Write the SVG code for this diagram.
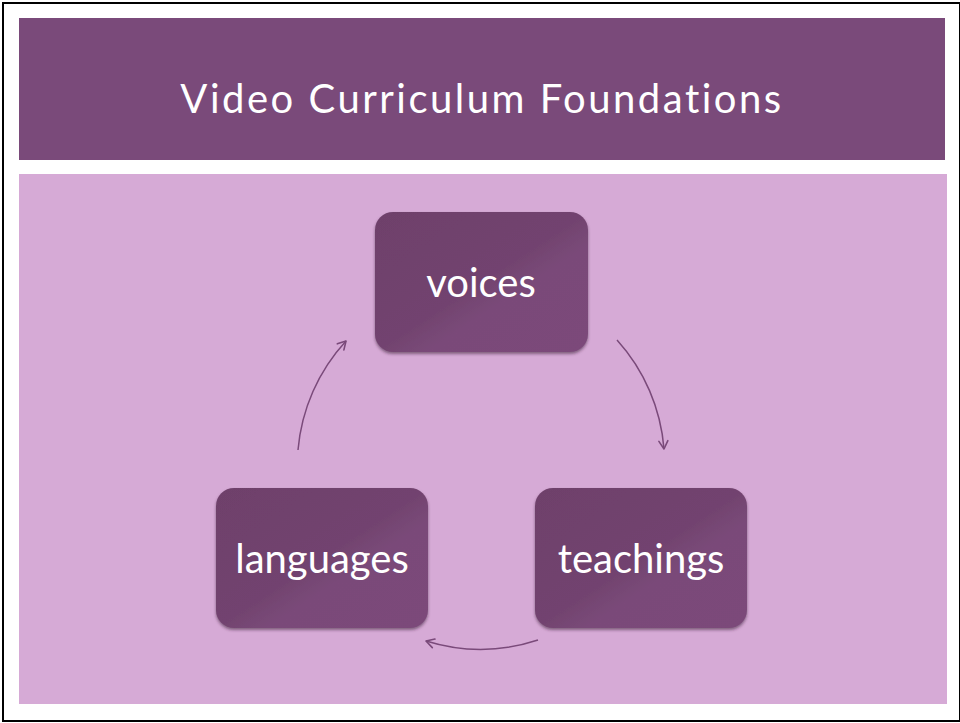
<svg xmlns="http://www.w3.org/2000/svg" width="960" height="723" viewBox="0 0 960 723">
  <style>
    .title { font-family: "Lato", "Open Sans", "Liberation Sans", sans-serif; font-size: 40px; fill: #ffffff; letter-spacing: 2.5px; }
    .label { font-family: "Lato", "Open Sans", "Liberation Sans", sans-serif; font-size: 40px; fill: #ffffff; }
    .box { fill: url(#nodeGrad); filter: url(#shadow); }
    .conn { fill: none; stroke: #7a4a7a; stroke-width: 1.5; marker-end: url(#arrow); }
  </style>
  <defs>
    <linearGradient id="nodeGrad" x1="0" y1="0" x2="1" y2="1">
      <stop offset="0" stop-color="#6e416b"/>
      <stop offset="0.5" stop-color="#72436f"/>
      <stop offset="0.62" stop-color="#7a4a79"/>
      <stop offset="1" stop-color="#7b4a7a"/>
    </linearGradient>
    <filter id="shadow" x="-10%" y="-10%" width="120%" height="125%">
      <feDropShadow dx="0" dy="2" stdDeviation="1.5" flood-color="#3a2038" flood-opacity="0.55"/>
    </filter>
    <marker id="arrow" viewBox="0 0 12 12" refX="10" refY="6" markerWidth="12" markerHeight="12" markerUnits="userSpaceOnUse" orient="auto">
      <polyline points="2,1.5 10,6 2,10.5" fill="none" stroke="#7a4a7a" stroke-width="1.6" stroke-linecap="round" stroke-linejoin="round"/>
    </marker>
  </defs>

  <rect x="0" y="0" width="960" height="723" fill="#ffffff"/>
  <rect x="3" y="3" width="957" height="718" fill="none" stroke="#000000" stroke-width="2"/>

  <g id="header">
    <rect x="19" y="18" width="926" height="142" fill="#7a4a7a"/>
    <text class="title" x="482" y="113" text-anchor="middle">Video Curriculum Foundations</text>
  </g>

  <g id="panel">
    <rect x="19" y="174" width="928" height="530" fill="#d6aad6"/>
  </g>

  <g id="connectors">
    <path class="conn" d="M617,340 A184,184 0 0 1 664,449"/>
    <path class="conn" d="M538,640 A184,184 0 0 1 426,641"/>
    <path class="conn" d="M298,450 A184,184 0 0 1 346,341"/>
  </g>

  <g id="node-voices">
    <rect class="box" x="375" y="212" width="213" height="140" rx="18"/>
    <text class="label" x="481" y="297" text-anchor="middle">voices</text>
  </g>

  <g id="node-teachings">
    <rect class="box" x="535" y="488" width="212" height="140" rx="18"/>
    <text class="label" x="641" y="573" text-anchor="middle">teachings</text>
  </g>

  <g id="node-languages">
    <rect class="box" x="216" y="488" width="212" height="140" rx="18"/>
    <text class="label" x="322" y="573" text-anchor="middle">languages</text>
  </g>
</svg>
